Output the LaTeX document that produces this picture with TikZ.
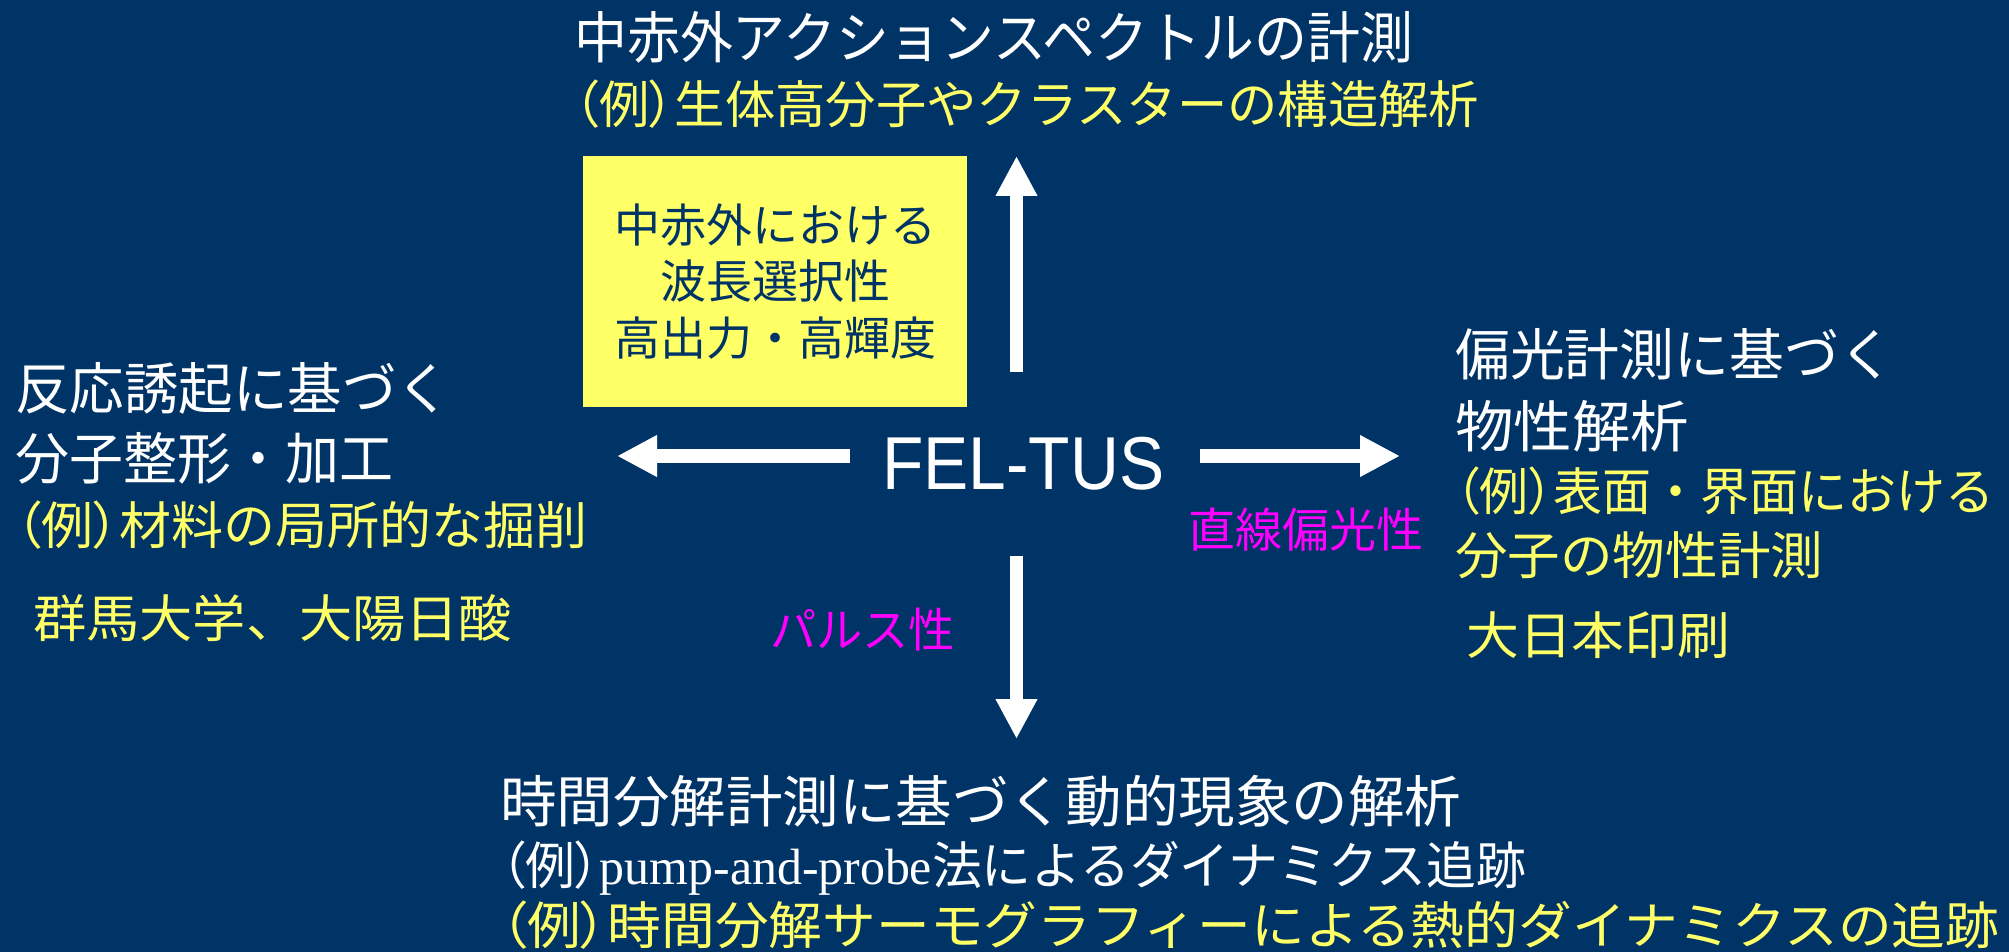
\documentclass[tikz,border=0pt]{standalone}
\usepackage{fontspec}
\usepackage{graphicx}
\setmainfont{Noto Sans CJK JP}
\newfontfamily\jpp{Noto Sans CJK JP}[RawFeature=+palt]
\newfontfamily\latf{Liberation Sans}
\newfontfamily\serf{Liberation Serif}
\usetikzlibrary{arrows.meta}
\definecolor{bgnavy}{RGB}{0,51,102}
\definecolor{txtyellow}{RGB}{255,255,102}
\definecolor{boxyellow}{RGB}{255,255,102}
\definecolor{mag}{RGB}{255,0,255}
\newcommand\fitw[2]{\resizebox{#1pt}{\height}{#2}}
\newcommand\lp{{\jpp （}}
\newcommand\rp{{\jpp ）}}
\begin{document}
\begin{tikzpicture}[x=1pt,y=-1pt,
  head/.style={anchor=base west, inner sep=0pt, text=white, font=\fontsize{56}{60}\selectfont},
  ex/.style={anchor=base west, inner sep=0pt, text=txtyellow, font=\fontsize{51}{56}\selectfont},
  exw/.style={anchor=base west, inner sep=0pt, text=white, font=\fontsize{51}{56}\selectfont},
  prop/.style={anchor=base west, inner sep=0pt, text=mag, font=\fontsize{47}{52}\selectfont},
  featbox/.style={fill=boxyellow, minimum width=384pt, minimum height=251pt, inner sep=0pt,
    align=center, text=bgnavy, font=\fontsize{46}{56.5}\selectfont},
  bigarrow/.style={draw=white, line width=13.5pt, -{Triangle[length=40pt, width=39pt]}}
]
\fill[bgnavy] (0,0) rectangle (2009,952);
\useasboundingbox (0,0) rectangle (2009,952);

% top
\node[head] (t1) at (574,59) {\fitw{839}{中赤外アクションスペクトルの計測}};
\node[ex] (t2) at (574,124) {\fitw{905}{\lp 例\rp 生体高分子やクラスターの構造解析}};

% left
\node[head] (l1) at (15,409) {\fitw{436}{反応誘起に基づく}};
\node[head] (l2) at (15,479) {\fitw{378}{分子整形・加工}};
\node[ex] (l3) at (15,544) {\fitw{572}{\lp 例\rp 材料の局所的な掘削}};
\node[ex] (l4) at (33,637) {\fitw{479}{群馬大学、大陽日酸}};

% right
\node[head] (r1) at (1455,375) {\fitw{439}{偏光計測に基づく}};
\node[head] (r2) at (1455,447) {\fitw{234}{物性解析}};
\node[ex] (r3) at (1455,510) {\fitw{539}{\lp 例\rp 表面・界面における}};
\node[ex] (r4) at (1455,574) {\fitw{368}{分子の物性計測}};
\node[ex] (r5) at (1466,654) {\fitw{264}{大日本印刷}};

% bottom
\node[head] (b1) at (500,822) {\fitw{961}{時間分解計測に基づく動的現象の解析}};
\node[exw] (b2) at (500,884) {\fitw{1026}{\lp 例\rp{\serf pump-and-probe}法によるダイナミクス追跡}};
\node[ex] (b3) at (500,944) {\fitw{1499}{\lp 例\rp 時間分解サーモグラフィーによる熱的ダイナミクスの追跡}};

% properties
\node[prop] (lin) at (1188,547) {\fitw{235}{直線偏光性}};
\node[prop] (pul) at (770,647) {\fitw{185}{パルス性}};

% feature box
\node[featbox] (box) at (775,281.5) {中赤外における\\波長選択性\\高出力・高輝度};

% centre
\node[anchor=base west, inner sep=0pt, text=white, font=\latf\fontsize{75}{80}\selectfont] (fel) at (882,489) {\fitw{282}{FEL-TUS}};

% arrows
\coordinate (upS) at (1016.5,372);
\coordinate (upE) at (1016.5,156);
\coordinate (dnS) at (1016.5,556);
\coordinate (dnE) at (1016.5,739);
\coordinate (ltS) at (850,456);
\coordinate (ltE) at (617,456);
\coordinate (rtS) at (1200,456);
\coordinate (rtE) at (1400,456);
\draw[bigarrow] (upS) -- (upE);
\draw[bigarrow] (dnS) -- (dnE);
\draw[bigarrow] (ltS) -- (ltE);
\draw[bigarrow] (rtS) -- (rtE);
\end{tikzpicture}
\end{document}
